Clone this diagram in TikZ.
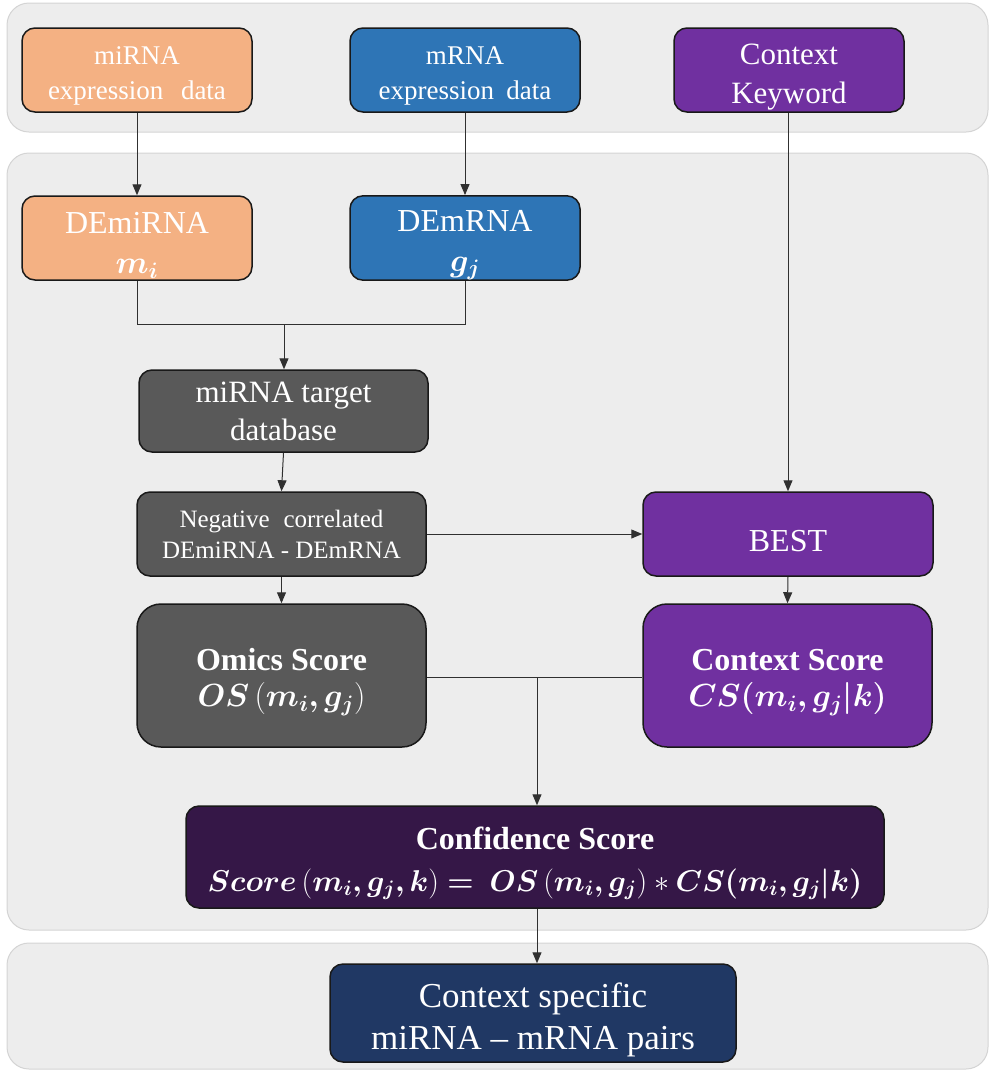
\RequirePackage{fix-cm}
\documentclass[tikz,border=0pt]{standalone}
\usepackage{fontspec}
\setmainfont{Liberation Serif}
\usepackage{amsmath}
\usepackage{bm}
\usetikzlibrary{arrows.meta,calc}

\definecolor{panelgray}{HTML}{EDEDED}
\definecolor{panelline}{HTML}{D4D4D4}
\definecolor{peach}{HTML}{F4B183}
\definecolor{steelblue}{HTML}{2E75B6}
\definecolor{violet}{HTML}{7030A0}
\definecolor{slate}{HTML}{595959}
\definecolor{plum}{HTML}{351747}
\definecolor{navy}{HTML}{203864}
\definecolor{wire}{HTML}{303030}

\newcommand{\sz}[2]{\fontsize{#1}{#2}\selectfont}
% taller first line: sets the text block a little below the box centre
\newcommand{\topstrut}{\rule{0pt}{1.1em}}

\tikzset{
  panel/.style={fill=panelgray, draw=panelline, line width=1pt, rounded corners=22pt},
  box/.style={draw=black!90, line width=1.5pt, rounded corners=13pt, text=white,
    align=center, inner sep=0pt, minimum width=#1},
  box/.default=230pt,
  flow/.style={draw=wire, line width=1pt, -{Triangle[length=11pt,width=9pt]}},
  wirepath/.style={draw=wire, line width=1pt},
}

\begin{document}
\begin{tikzpicture}[x=1pt,y=-1pt]
\useasboundingbox (0,0) rectangle (990,1072);

% background bands
\path[panel] (7,3) rectangle (988,132);
\path[panel] (7,153) rectangle (988,930);
\path[panel] (7,943) rectangle (988,1069);

% inputs
\node[box, fill=peach, minimum height=84pt, font=\sz{27}{35}] (mirexp) at (137,70)
  {\topstrut miRNA\\expression\hspace{0.4em} data};
\node[box, fill=steelblue, minimum height=84pt, font=\sz{27}{35}] (mexp) at (465,70)
  {\topstrut mRNA\\expression\hspace{0.2em} data};
\node[box, fill=violet, minimum height=84pt, font=\sz{31}{39}] (ctx) at (789,70)
  {\topstrut Context\\Keyword};

% differential expression
\node[box, fill=peach, minimum height=84pt, font=\sz{32}{40}] (demi) at (137,238)
  {\topstrut DEmiRNA\\$\bm{m_i}$};
\node[box, fill=steelblue, minimum height=84pt, font=\sz{32}{40}] (dem) at (465,238)
  {\topstrut DEmRNA\\$\bm{g_j}$};

% omics branch
\node[box=289pt, fill=slate, minimum height=82pt, font=\sz{31}{38}] (db) at (283.5,411)
  {miRNA target\\database};
\node[box=289pt, fill=slate, minimum height=84pt, font=\sz{25}{31}] (neg) at (281.5,534)
  {Negative\hspace{0.3em} correlated\\DEmiRNA - DEmRNA};
\node[box=289pt, fill=slate, minimum height=143pt, rounded corners=24pt, font=\sz{32}{36}] (omics) at (281.5,675.5)
  {\topstrut\textbf{Omics Score}\\$\bm{OS\left(m_i,g_j\right)}$};

% context branch
\node[box=290pt, fill=violet, minimum height=84pt, font=\sz{32}{38}] (best) at (788,534)
  {\topstrut BEST};
\node[box=289pt, fill=violet, minimum height=143pt, rounded corners=24pt, font=\sz{32}{36}] (cs) at (787.5,675.5)
  {\topstrut\textbf{Context Score}\\$\bm{CS(m_i,g_j|k)}$};

% combined score and output
\node[box=698pt, fill=plum, minimum height=102pt, font=\sz{32}{42}] (conf) at (535,857)
  {\topstrut\textbf{Confidence Score}\\
   \scalebox{0.94}{$\bm{Score\left(m_i,g_j,k\right) =\ OS\left(m_i,g_j\right)} \ast \bm{CS(m_i,g_j|k)}$}};
\node[box=406pt, fill=navy, minimum height=98pt, font=\sz{35}{42}] (out) at (533,1013)
  {\topstrut Context specific\\miRNA -- mRNA pairs};

% connectors
\draw[flow] (mirexp) -- (demi);
\draw[flow] (mexp) -- (dem);
\draw[flow] (ctx.south -| best.north) -- (best.north);

\coordinate (joinL) at (137,324);
\coordinate (joinR) at (465,324);
\coordinate (joinM) at (284,324);
\draw[wirepath] (demi.south) -- (joinL) -- (joinR) -- (dem.south);
\draw[flow] (joinM) -- (db.north -| joinM);

\draw[flow] (db.south) -- (neg.north);
\draw[flow] (neg.east) -- (best.west);
\draw[flow] (neg.south) -- (omics.north);
\draw[flow] (best.south) -- (cs.north);

\coordinate (joinS) at (537,677);
\draw[wirepath] (omics.east |- joinS) -- (cs.west |- joinS);
\draw[flow] (joinS) -- (joinS |- conf.north);
\draw[flow] (conf.south -| joinS) -- (out.north -| joinS);
\end{tikzpicture}
\end{document}
